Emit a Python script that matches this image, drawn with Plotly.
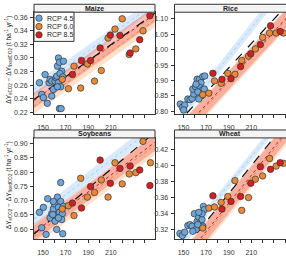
import plotly.graph_objects as go

# ---------------- data ----------------
# shared x values of the RCP 6.0 and RCP 8.5 runs (same for every crop)
x60 = [167, 172.4, 177.4, 183.3, 189.2, 195.5, 201.5, 207.5, 213.6, 220, 226.2, 232, 238.4, 245]
x85 = [176, 184, 192, 200.5, 209.5, 218, 227, 235.5, 244.5]

# Maize
maize_x45 = [146.8, 148.8, 150.3, 151.8, 153.8, 155.3, 156.2, 157.7, 159.1, 157.7, 160.6, 161.5, 162.1,
             163.6, 162.7, 164.5, 168.0, 166.5, 165.0, 163.6, 165.6, 164.5, 166.0, 167.4, 162.7]
maize_y45 = [0.2636, 0.2465, 0.2417, 0.2757, 0.2334, 0.2636, 0.2685, 0.2440, 0.2538, 0.2660, 0.2660, 0.2710, 0.2733,
             0.3000, 0.2880, 0.2938, 0.2952, 0.2806, 0.2772, 0.2636, 0.2577, 0.2256, 0.2256, 0.2723, 0.2577]
maize_y60 = [0.2685, 0.2548, 0.2880, 0.2558, 0.2913, 0.2660, 0.2816, 0.3293, 0.3425, 0.3576, 0.3050, 0.3133, 0.3400, 0.3720]
maize_y85 = [0.2757, 0.2962, 0.2962, 0.3147, 0.3337, 0.3332, 0.3074, 0.3269, 0.3620]

# Rice
rice_x45 = [147.1, 148.9, 151.0, 150.1, 153.8, 155.8, 157.6, 159.1, 158.2, 160.6, 162.0, 164.1, 165.5,
            167.0, 168.8, 164.7, 167.0, 165.8, 168.4, 162.6, 161.1, 163.5]
rice_y45 = [0.8237, 0.8130, 0.8205, 0.8044, 0.8398, 0.8376, 0.8420, 0.8560, 0.8720, 0.8800, 0.9040, 0.9040, 0.8930,
            0.9126, 0.9147, 0.8770, 0.8700, 0.8500, 0.8720, 0.8630, 0.8880, 0.8400]
rice_y60 = [0.8537, 0.8590, 0.8987, 0.8910, 0.9233, 0.9200, 0.9650, 0.9790, 1.0025, 1.0400, 1.0540, 1.0540, 1.0540, 1.0800]
rice_y85 = [0.9233, 0.9040, 0.9060, 0.9450, 0.9865, 1.0165, 1.0775, 1.0590, 1.0900]

# Soybeans
soy_x45 = [146.8, 148.8, 150.3, 152.7, 154.1, 156.2, 157.7, 159.1, 160.0, 161.5, 162.1, 162.7, 163.6,
           164.5, 165.6, 165.6, 167.1, 167.4, 168.0, 160.6, 166.5, 163.6, 158.6, 159.1]
soy_y45 = [0.6590, 0.6050, 0.6765, 0.5816, 0.7066, 0.6395, 0.6545, 0.6707, 0.6893, 0.6476, 0.5990, 0.7124, 0.6765,
           0.6590, 0.6974, 0.7634, 0.6545, 0.5839, 0.6800, 0.6280, 0.6337, 0.6395, 0.6510, 0.6974]
soy_y60 = [0.6707, 0.6823, 0.6476, 0.7784, 0.7124, 0.7286, 0.7726, 0.7124, 0.8328, 0.7587, 0.7935, 0.7981, 0.9080, 0.8330]
soy_y85 = [0.6916, 0.6742, 0.7495, 0.8421, 0.7610, 0.8131, 0.8213, 0.8074, 0.7530]

# Wheat
wheat_x45 = [146.8, 148.9, 151.0, 153.8, 155.8, 157.6, 159.6, 161.1, 162.0, 163.5, 164.7, 165.5, 166.4,
             167.6, 168.4, 166.4, 163.5, 158.2, 167.0, 162.6]
wheat_y45 = [0.3155, 0.3130, 0.3171, 0.3253, 0.3265, 0.3245, 0.3400, 0.3204, 0.3306, 0.3359, 0.3286, 0.3409, 0.3327,
             0.3491, 0.3450, 0.3400, 0.3417, 0.3183, 0.3245, 0.3265]
wheat_y60 = [0.3224, 0.3470, 0.3483, 0.3540, 0.3614, 0.3810, 0.3442, 0.3600, 0.3827, 0.3868, 0.4085, 0.3990, 0.4024, 0.4100]
wheat_y85 = [0.3622, 0.3458, 0.3552, 0.3614, 0.3778, 0.3983, 0.3950, 0.4032, 0.4150]

# regression lines / bands: values at the two ends of fit_x
fit_x = [142, 249]
maize_fit = [0.239, 0.366]
maize_band45 = ([0.245, 0.372], [0.262, 0.389])
maize_band60 = ([0.218, 0.345], [0.240, 0.367])
maize_band85 = ([0.226, 0.353], [0.249, 0.376])

rice_fit = [0.751, 1.174]
rice_band45 = ([0.738, 1.234], [0.772, 1.268])
rice_band60 = ([0.674, 1.097], [0.738, 1.161])
rice_band85 = ([0.681, 1.104], [0.741, 1.164])

soy_fit = [0.583, 0.940]
soy_band45 = ([0.615, 0.939], [0.657, 0.981])
soy_band60 = ([0.540, 0.860], [0.610, 0.930])
soy_band85 = ([0.558, 0.875], [0.618, 0.935])

wheat_fit = [0.2815, 0.4673]
wheat_band45 = ([0.2870, 0.4728], [0.2980, 0.4838])
wheat_band60 = ([0.2535, 0.4393], [0.2795, 0.4653])
wheat_band85 = ([0.2575, 0.4433], [0.2815, 0.4673])

crops = ["Maize", "Rice", "Soybeans", "Wheat"]
scenarios = ["RCP 4.5", "RCP 6.0", "RCP 8.5"]
x_major = [150, 170, 190, 210]
x_minor = [160, 180, 200, 220, 230, 240]
maize_yticks = [0.22, 0.24, 0.26, 0.28, 0.30, 0.32, 0.34, 0.36]
rice_yticks = [0.80, 0.85, 0.90, 0.95, 1.00, 1.05, 1.10]
soy_yticks = [0.60, 0.65, 0.70, 0.75, 0.80, 0.85, 0.90]
wheat_yticks = [0.32, 0.34, 0.36, 0.38, 0.40, 0.42]

# ---------------- styling ----------------
W, H = 286, 256
FONT = "Liberation Sans, Arial, sans-serif"
col_pts = {"RCP 4.5": "#6CA6DA", "RCP 6.0": "#E8893A", "RCP 8.5": "#D21F1F"}
col_band = {"RCP 4.5": "rgba(170,210,245,0.45)", "RCP 6.0": "rgba(250,175,120,0.38)",
            "RCP 8.5": "rgba(240,95,85,0.38)"}
col_line = {"RCP 4.5": "#A9CDEE", "RCP 6.0": "#E8893A", "RCP 8.5": "#D21F1F"}


def px(v):
    return v / W


def py(v):
    return 1 - v / H


panels = [
    dict(name="Maize", n="", xd=(34, 155), yd=(12.3, 115), yr=(0.2175, 0.3673), yt=maize_yticks,
         x45=maize_x45, y45=maize_y45, y60=maize_y60, y85=maize_y85, fit=maize_fit,
         bands=[maize_band45, maize_band60, maize_band85], xr=(142, 249), right=True),
    dict(name="Rice", n="2", xd=(174.5, 286), yd=(12.3, 115), yr=(0.791, 1.1215), yt=rice_yticks,
         x45=rice_x45, y45=rice_y45, y60=rice_y60, y85=rice_y85, fit=rice_fit,
         bands=[rice_band45, rice_band60, rice_band85], xr=(142, 240.7), right=False),
    dict(name="Soybeans", n="3", xd=(34, 155), yd=(139, 241.3), yr=(0.564, 0.92), yt=soy_yticks,
         x45=soy_x45, y45=soy_y45, y60=soy_y60, y85=soy_y85, fit=soy_fit,
         bands=[soy_band45, soy_band60, soy_band85], xr=(142, 249), right=True),
    dict(name="Wheat", n="4", xd=(174.5, 286), yd=(139, 241.3), yr=(0.3082, 0.4339), yt=wheat_yticks,
         x45=wheat_x45, y45=wheat_y45, y60=wheat_y60, y85=wheat_y85, fit=wheat_fit,
         bands=[wheat_band45, wheat_band60, wheat_band85], xr=(142, 240.7), right=False),
]

fig = go.Figure()
shapes = []
annotations = []

for p in panels:
    xa, ya = "x" + p["n"], "y" + p["n"]
    # bands
    for sc, (lo, hi) in zip(scenarios, p["bands"]):
        fig.add_trace(go.Scatter(x=[fit_x[0], fit_x[1], fit_x[1], fit_x[0]],
                                 y=[lo[0], lo[1], hi[1], hi[0]], fill="toself",
                                 fillcolor=col_band[sc], line=dict(width=0), mode="lines",
                                 hoverinfo="skip", showlegend=False, xaxis=xa, yaxis=ya))
    for sc, (lo, hi) in zip(scenarios, p["bands"]):
        fig.add_trace(go.Scatter(x=fit_x, y=[(lo[0] + hi[0]) / 2, (lo[1] + hi[1]) / 2], mode="lines",
                                 line=dict(color=col_line[sc], width=1, dash="dot"),
                                 hoverinfo="skip", showlegend=False, xaxis=xa, yaxis=ya))
    fig.add_trace(go.Scatter(x=fit_x, y=p["fit"], mode="lines",
                             line=dict(color="#111111", width=1.2, dash="dash"),
                             showlegend=False, xaxis=xa, yaxis=ya))
    for sc, xs, ys in [("RCP 4.5", p["x45"], p["y45"]), ("RCP 6.0", x60, p["y60"]), ("RCP 8.5", x85, p["y85"])]:
        fig.add_trace(go.Scatter(x=xs, y=ys, mode="markers", name=sc,
                                 marker=dict(size=6.5, color=col_pts[sc], line=dict(color="#333333", width=0.7)),
                                 showlegend=False, xaxis=xa, yaxis=ya, cliponaxis=True))

    axkw = dict(showline=True, linecolor="#333333", linewidth=1, ticks="outside", ticklen=3,
                tickcolor="#333333", tickwidth=1, showgrid=False, zeroline=False,
                tickfont=dict(size=7, color="#333333", family=FONT))
    fig.layout["xaxis" + p["n"]] = dict(
        domain=[px(p["xd"][0]), px(p["xd"][1])], range=list(p["xr"]), anchor=ya,
        tickmode="array", tickvals=x_major, mirror=True, ticklabelstandoff=3,
        minor=dict(tickmode="array", tickvals=x_minor, ticks="outside", ticklen=3,
                   tickcolor="#333333", tickwidth=1, showgrid=False),
        **axkw)
    fig.layout["yaxis" + p["n"]] = dict(
        domain=[py(p["yd"][1]), py(p["yd"][0])], range=list(p["yr"]), anchor=xa,
        tickmode="array", tickvals=p["yt"], tickformat=".2f", mirror=p["right"], ticklabelstandoff=1, **axkw)

    # strip
    x1 = px(p["xd"][1]) if p["right"] else 1.05
    shapes.append(dict(type="rect", xref="paper", yref="paper", x0=px(p["xd"][0]), x1=x1,
                       y0=py(p["yd"][0]), y1=py(p["yd"][0] - 8.0), fillcolor="#F4F4F4",
                       line=dict(color="#333333", width=1), layer="above"))
    cx = (p["xd"][0] + (p["xd"][1] if p["right"] else 286)) / 2
    annotations.append(dict(xref="paper", yref="paper", x=px(cx), y=py(p["yd"][0] - 4.0),
                            text="<b>%s</b>" % p["name"], showarrow=False,
                            font=dict(size=7, color="#222222", family=FONT),
                            xanchor="center", yanchor="middle"))

# y titles
ytitle = "ΔY<sub>eCO2</sub> − ΔY<sub>fixedCO2</sub> (t ha<sup>-1</sup> yr<sup>-1</sup>)"
for yc in [(12.3 + 115) / 2 - 3, (139 + 241.3) / 2 - 3]:
    annotations.append(dict(xref="paper", yref="paper", x=px(8.5), y=py(yc), text=ytitle,
                            textangle=-90, showarrow=False, xanchor="center", yanchor="middle",
                            font=dict(size=6.5, color="#222222", family=FONT)))

# legend (manual)
shapes.append(dict(type="rect", xref="paper", yref="paper", x0=px(34), x1=px(74), y0=py(41.7), y1=py(12.3),
                   fillcolor="white", line=dict(color="#333333", width=1), layer="above"))
for i, sc in enumerate(scenarios):
    yy = 18.3 + i * 8.4
    shapes.append(dict(type="circle", xref="paper", yref="paper", xsizemode="pixel", ysizemode="pixel",
                       xanchor=px(39), yanchor=py(yy), x0=-3.2, x1=3.2, y0=-3.2, y1=3.2,
                       fillcolor=col_pts[sc], line=dict(color="#333333", width=0.7), layer="above"))
    annotations.append(dict(xref="paper", yref="paper", x=px(45), y=py(yy), text=sc, showarrow=False,
                            xanchor="left", yanchor="middle",
                            font=dict(size=7, color="#222222", family=FONT)))

fig.update_layout(width=W, height=H, margin=dict(l=0, r=0, t=0, b=0), showlegend=False,
                  paper_bgcolor="white", plot_bgcolor="white", shapes=shapes, annotations=annotations,
                  font=dict(family=FONT))
fig.write_html("out.html")
